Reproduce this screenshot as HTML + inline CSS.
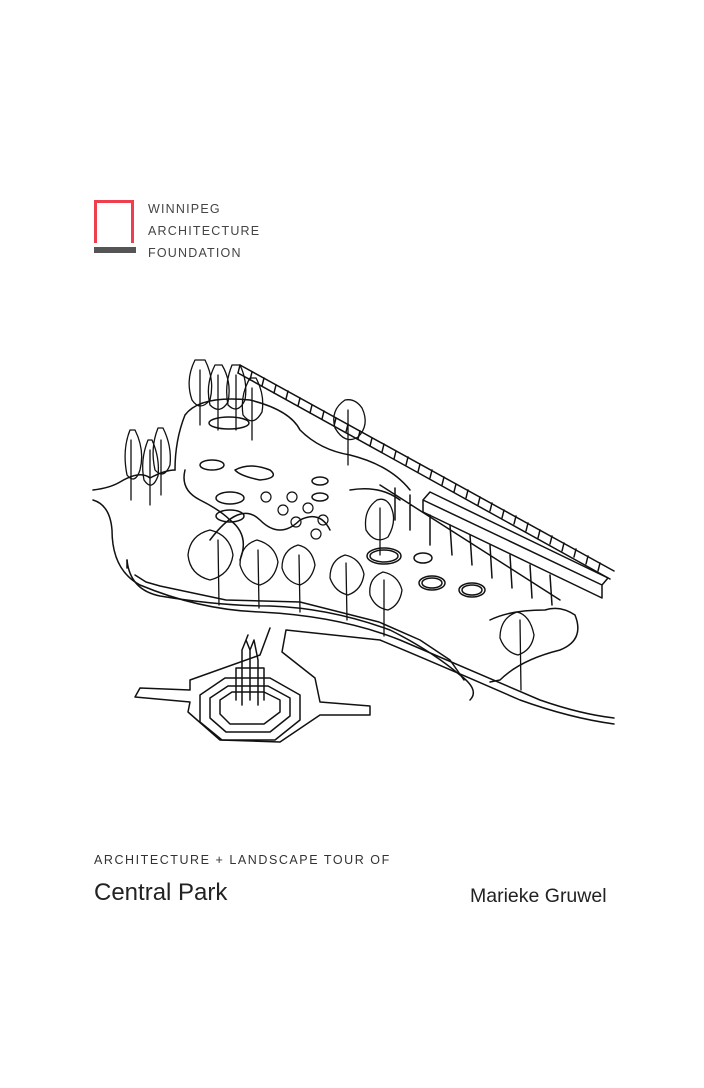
<!DOCTYPE html>
<html><head><meta charset="utf-8"><style>
html,body{margin:0;padding:0;background:#fff}
body{width:704px;height:1088px;position:relative;overflow:hidden;font-family:"Liberation Sans",sans-serif}
.t{position:absolute;color:#333;white-space:nowrap}
</style></head><body>
<div style="position:absolute;left:94px;top:200px;width:34px;height:40px;border:3.5px solid #ef3f4f;border-bottom:none"></div>
<div style="position:absolute;left:94px;top:247px;width:42px;height:6px;background:#555"></div>
<div class="t" style="left:148px;top:198px;font-size:12.5px;letter-spacing:1.2px;line-height:22px;color:#444">WINNIPEG<br>ARCHITECTURE<br>FOUNDATION</div>

<svg style="position:absolute;left:0;top:0" width="704" height="1088" viewBox="0 0 704 1088" fill="none" stroke="#111" stroke-width="1.5" stroke-linejoin="round" stroke-linecap="round">
<path d="M240 365 L614 571 M238 373 L610 579"/>
<path d="M240 365 L238 373 M252 372 L250 380 M264 378 L262 386 M276 385 L274 393 M288 391 L286 399 M300 398 L298 406 M312 405 L310 413 M324 411 L322 419 M336 418 L334 426 M348 424 L346 432 M360 431 L358 439 M372 438 L370 446 M384 444 L382 452 M396 451 L394 459 M408 457 L406 465 M420 464 L418 472 M432 470 L430 478 M444 477 L442 485 M456 484 L454 492 M468 490 L466 498 M480 497 L478 505 M492 503 L490 511 M504 510 L502 518 M516 516 L514 524 M528 523 L526 531 M540 530 L538 538 M552 536 L550 544 M564 543 L562 551 M576 549 L574 557 M588 556 L586 564 M600 563 L598 571"/>
<path d="M93 490 Q110 488 120 482 Q140 470 150 478 Q165 470 175 470"/>
<path d="M93 500 Q110 505 112 530 Q112 570 140 585 Q200 610 260 612 Q340 616 400 640 Q470 670 540 700 Q580 714 614 718"/>
<path d="M127 560 Q130 590 160 596 Q220 606 270 606 Q330 608 390 630 Q430 650 460 675 Q480 690 470 700"/>
<path d="M127 560 L127 568 M135 575 L146 582 L160 586 L226 600 L300 602 L379 622 L420 640 L450 660 L464 680"/>
<path d="M270 628 L260 655 L190 680 L190 690 L140 688 L135 697 L190 702 L188 712 L220 740 L280 742 L320 715 L370 715 L370 706 L320 702 L315 678 L282 652 L286 630 L380 640 Q440 665 520 700 Q570 718 614 724"/>
<path d="M200 695 L225 678 L270 678 L300 695 L300 720 L275 740 L222 740 L200 722 Z"/>
<path d="M210 698 L228 686 L268 686 L290 698 L290 716 L270 732 L226 732 L210 718 Z"/>
<path d="M220 700 L232 692 L264 692 L280 700 L280 712 L264 724 L230 724 L220 714 Z"/>
<path d="M242 705 L242 650 L246 640 L250 650 L254 640 L258 660 L258 705 M236 700 L236 668 L264 668 L264 700 M246 640 L248 635 M250 650 L250 700"/>
<path d="M175 470 Q175 440 185 415 Q200 395 250 400 Q290 410 300 430 Q320 450 350 455 Q390 465 410 490"/>
<path d="M185 470 Q180 490 200 500 Q220 510 230 520 Q250 535 240 560 M350 490 Q380 485 400 500"/>
<path d="M490 620 Q510 610 545 610 Q560 605 575 615 Q585 640 560 650 Q520 660 500 680 L490 682"/>
<path d="M423 500 L602 585 L602 598 L423 512 Z M423 500 L430 492 L608 578 L602 585"/>
<path d="M380 485 L560 600 M395 488 L395 520 M410 495 L410 530 M430 515 L430 545 M450 525 L452 555 M470 535 L472 565 M490 545 L492 578 M510 555 L512 588 M530 565 L532 598 M550 575 L552 605"/>
<ellipse cx="384" cy="556" rx="17" ry="8"/><ellipse cx="384" cy="556" rx="14" ry="6"/>
<ellipse cx="423" cy="558" rx="9" ry="5"/><ellipse cx="432" cy="583" rx="13" ry="7"/><ellipse cx="432" cy="583" rx="10" ry="5"/>
<ellipse cx="472" cy="590" rx="13" ry="7"/><ellipse cx="472" cy="590" rx="10" ry="5"/>
<ellipse cx="320" cy="481" rx="8" ry="4"/><ellipse cx="320" cy="497" rx="8" ry="4"/><ellipse cx="230" cy="498" rx="14" ry="6"/><ellipse cx="230" cy="516" rx="14" ry="6"/>
<ellipse cx="229" cy="423" rx="20" ry="6"/><ellipse cx="212" cy="465" rx="12" ry="5"/>
<path d="M235 470 Q250 462 270 470 Q280 478 260 480 Q240 476 235 470"/>
<path d="M210 540 Q240 500 260 520 Q280 540 300 520 Q320 510 330 530"/>
<g stroke-width="1.2"><circle cx="266" cy="497" r="5"/><circle cx="292" cy="497" r="5"/><circle cx="283" cy="510" r="5"/><circle cx="308" cy="508" r="5"/><circle cx="296" cy="522" r="5"/><circle cx="323" cy="520" r="5"/><circle cx="316" cy="534" r="5"/></g>
<g stroke-width="1.3">
<path d="M195 360 Q185 380 192 400 Q200 412 210 400 Q215 380 205 360 Z M200 370 L200 425"/>
<path d="M215 365 Q205 385 210 405 Q220 415 228 402 Q232 382 222 365 Z M218 375 L218 430"/>
<path d="M232 365 Q224 385 228 405 Q238 415 245 400 Q248 382 240 365 Z M236 375 L236 430"/>
<path d="M250 378 Q240 395 243 415 Q253 428 262 412 Q265 395 256 378 Z M252 388 L252 440"/>
<path d="M130 430 Q122 450 127 475 Q135 485 140 470 Q145 450 135 430 Z M131 440 L131 500"/>
<path d="M148 440 Q140 460 144 480 Q152 492 158 476 Q160 458 152 440 Z M150 450 L150 505"/>
<path d="M158 428 Q150 448 155 470 Q164 480 170 465 Q172 446 163 428 Z M161 440 L161 495"/>
<path d="M345 400 Q330 410 335 428 Q345 445 358 437 Q370 425 362 408 Q355 398 345 400 Z M348 410 L348 465"/>
<path d="M377 500 Q363 510 366 530 Q375 545 388 537 Q398 520 390 505 Q385 497 377 500 Z M380 508 L380 555"/>
<path d="M210 530 Q190 535 188 555 Q190 575 210 580 Q230 575 233 555 Q230 535 210 530 Z M218 540 L219 605"/>
<path d="M257 540 Q240 545 240 565 Q245 582 260 585 Q275 580 278 562 Q275 545 257 540 Z M258 550 L259 608"/>
<path d="M298 545 Q282 550 282 568 Q286 582 300 585 Q312 580 315 565 Q312 548 298 545 Z M299 555 L300 612"/>
<path d="M345 555 Q330 560 330 578 Q335 592 348 595 Q362 590 364 574 Q360 558 345 555 Z M346 563 L347 620"/>
<path d="M383 572 Q368 578 370 595 Q375 608 388 610 Q400 605 402 590 Q398 575 383 572 Z M384 580 L384 636"/>
<path d="M517 612 Q500 618 500 638 Q505 652 518 655 Q532 650 534 635 Q530 615 517 612 Z M520 620 L521 690"/>
</g>
</svg>

<div class="t" style="left:94px;top:853px;font-size:12.5px;letter-spacing:1.55px;color:#333">ARCHITECTURE + LANDSCAPE TOUR OF</div>
<div class="t" style="left:94px;top:879px;font-size:24px;color:#222">Central Park</div>
<div class="t" style="left:470px;top:885px;font-size:19.5px;color:#222">Marieke Gruwel</div>
</body></html>
